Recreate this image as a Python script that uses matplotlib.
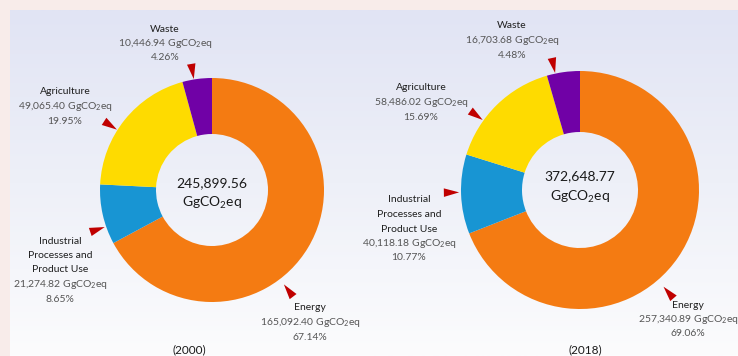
import numpy as np
import matplotlib.pyplot as plt
from matplotlib.colors import LinearSegmentedColormap
from matplotlib.markers import MarkerStyle
from matplotlib.path import Path
from matplotlib.transforms import Affine2D

plt.rcParams['font.family'] = ['Lato', 'DejaVu Sans']
plt.rcParams['mathtext.default'] = 'regular'

# GHG emissions by sector, GgCO2eq
sectors = ['Energy', 'Industrial\nProcesses and\nProduct Use', 'Agriculture', 'Waste']
colors = ['#f47b12', '#1895d3', '#fedb00', '#7001a6']
years = ['2000', '2018']
totals = [245899.56, 372648.77]
emissions_2000 = [165092.40, 21274.82, 49065.40, 10446.94]
emissions_2018 = [257340.89, 40118.18, 58486.02, 16703.68]
shares_2000 = [67.14, 8.65, 19.95, 4.26]
shares_2018 = [69.06, 10.77, 15.69, 4.48]

W, H = 738, 356
UNIT = 'GgCO$_2$eq'

# layout in pixels (y measured from the top)
donuts = [
    dict(center=(212, 190), radius=112, width=56,
         labels=[(310, 308), (60, 241), (65, 92), (165, 29)],
         arrow_shift=[-22, 6, 6, 2], arrow_r=[1.12, 1.08, 1.08, 1.08],
         year_pos=(189, 350), total_y=(183, 203)),
    dict(center=(580, 190), radius=119, width=61,
         labels=[(688, 305), (409, 200), (421, 88), (512, 26)],
         arrow_shift=[-15, -1, 10, 4], arrow_r=[1.13, 1.08, 1.08, 1.07],
         year_pos=(585, 350), total_y=(176, 197)),
]
series = [(emissions_2000, shares_2000), (emissions_2018, shares_2018)]

fig = plt.figure(figsize=(W / 100, H / 100), dpi=100, facecolor='#f8ecea')
ax = fig.add_axes([0, 0, 1, 1])
ax.set_facecolor('#f8ecea')

# panel background with a soft vertical gradient
cmap = LinearSegmentedColormap.from_list('panel', ['#fcfcfd', '#eef0f8', '#e1e4f4'])
grad = np.linspace(0, 1, 256).reshape(-1, 1)
ax.imshow(grad, extent=[10, W, 0, H - 10], origin='lower', aspect='auto', cmap=cmap, zorder=0)

tri = Path([(-0.28, 0.5), (0.28, 0.5), (0, -0.5), (-0.28, 0.5)],
           [Path.MOVETO, Path.LINETO, Path.LINETO, Path.CLOSEPOLY])

line_h = 14.5
for lay, (values, shares), year, total in zip(donuts, series, years, totals):
    cx, cy = lay['center'][0], H - lay['center'][1]
    r = lay['radius']
    ax.pie(values, colors=colors, startangle=90, counterclock=False,
           radius=r, center=(cx, cy),
           wedgeprops=dict(width=lay['width'], linewidth=0))

    # callout arrows sitting outside each wedge
    cum = np.cumsum([0] + list(shares))
    for i in range(len(values)):
        mid = 90 - (cum[i] + shares[i] / 2) * 3.6
        ang = mid + lay['arrow_shift'][i]
        ang = ang % 360
        rr = r * lay['arrow_r'][i]
        px = cx + rr * np.cos(np.radians(ang))
        py = cy + rr * np.sin(np.radians(ang))
        m = MarkerStyle(tri, transform=Affine2D().rotate_deg(ang + 270))
        ax.plot(px, py, marker=m, markersize=11, color='#c00000',
                markeredgewidth=0, zorder=4)

    # sector labels
    for i, name in enumerate(sectors):
        lx, ly = lay['labels'][i]
        lines = name.split('\n')
        for k, ln in enumerate(lines):
            ax.text(lx, H - (ly + k * line_h), ln, ha='center', va='center',
                    fontsize=7.5, color='#1f1f1f', zorder=5)
        n = len(lines)
        ax.text(lx, H - (ly + n * line_h), f'{values[i]:,.2f} {UNIT}',
                ha='center', va='center', fontsize=7.5, color='#555555', zorder=5)
        ax.text(lx, H - (ly + (n + 1) * line_h), f'{shares[i]:.2f}%',
                ha='center', va='center', fontsize=7.5, color='#555555', zorder=5)

    # total in the hole
    ax.text(cx, H - lay['total_y'][0], f'{total:,.2f}', ha='center', va='center',
            fontsize=10, color='#1a1a1a', zorder=5)
    ax.text(cx, H - lay['total_y'][1], UNIT, ha='center', va='center',
            fontsize=10, color='#1a1a1a', zorder=5)

    ax.text(lay['year_pos'][0], H - lay['year_pos'][1], f'({year})',
            ha='center', va='center', fontsize=8.5, color='#1a1a1a', zorder=5)

ax.set_xlim(0, W)
ax.set_ylim(0, H)
ax.set_aspect('auto')
ax.axis('off')

fig.savefig('out.png', dpi=100, facecolor=fig.get_facecolor())
